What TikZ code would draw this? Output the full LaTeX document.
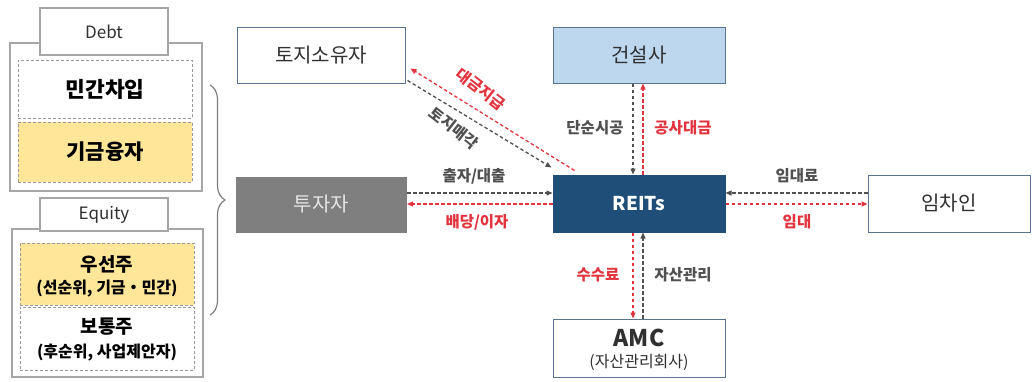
\documentclass[tikz,border=0pt]{standalone}
\usepackage{fontspec}
\setmainfont{Noto Sans CJK KR}
\usetikzlibrary{arrows.meta,decorations.pathreplacing,calc}
\definecolor{bord}{HTML}{5A7391}
\definecolor{lgray}{HTML}{A6A6A6}
\definecolor{dgray}{HTML}{9A9A9A}
\definecolor{yel}{HTML}{FFE699}
\definecolor{lblue}{HTML}{BDD7EE}
\definecolor{dblue}{HTML}{1F4E79}
\definecolor{mgray}{HTML}{7F7F7F}
\definecolor{rred}{HTML}{E2343F}
\definecolor{agray}{HTML}{505050}
\definecolor{txt}{HTML}{303030}
\begin{document}
\begin{tikzpicture}[x=1pt,y=-1pt,
  box/.style={draw=bord, line width=1pt, fill=white, text=txt, inner sep=0pt, font=\fontsize{20}{22}\selectfont},
  panel/.style={draw=lgray, line width=1.2pt, fill=white, inner sep=0pt},
  tab/.style={draw=lgray, line width=1.2pt, fill=white, inner sep=0pt, text=txt, font=\fontsize{17}{19}\selectfont},
  inbox/.style={draw=dgray, dashed, dash pattern=on 3pt off 2pt, line width=1pt, inner sep=0pt, text=black, align=center},
  ttl/.style={inner sep=0pt, text=black, font=\bfseries\fontsize{19}{21}\selectfont},
  sub/.style={inner sep=0pt, text=black, font=\bfseries\fontsize{16}{18}\selectfont},
  ga/.style={draw=agray, line width=1.3pt, dash pattern=on 3.5pt off 2.5pt, -{Triangle[length=6pt,width=5pt]}},
  ra/.style={draw=rred, line width=1.3pt, dash pattern=on 3.5pt off 2.5pt, -{Triangle[length=6pt,width=5pt]}},
  gl/.style={text=agray, font=\bfseries\fontsize{15.5}{17}\selectfont, inner sep=0pt},
  rl/.style={text=rred, font=\bfseries\fontsize{15.5}{17}\selectfont, inner sep=0pt}
]
\useasboundingbox (0,0) rectangle (1034,381);

% ---------- left panel: Debt ----------
\node[panel, minimum width=192pt, minimum height=148pt] (debtbox) at (106,117) {};
\node[tab, minimum width=128pt, minimum height=47pt] (debttab) at (104,31.5) {Debt};
\node[inbox, minimum width=174pt, minimum height=58pt, font=\bfseries\fontsize{21.5}{23}\selectfont] (minkan) at (105,89) {민간차입};
\node[inbox, fill=yel, minimum width=174pt, minimum height=60pt, font=\bfseries\fontsize{21}{23}\selectfont] (kigeum) at (105,152) {기금융자};

% ---------- left panel: Equity ----------
\node[panel, minimum width=191pt, minimum height=148pt] (eqbox) at (107.5,303) {};
\node[tab, minimum width=128pt, minimum height=33pt] (eqtab) at (104,214.5) {Equity};
\node[inbox, fill=yel, minimum width=174pt, minimum height=62pt] (pref) at (107,274) {};
\node[ttl] (preft) at (107,264) {우선주};
\node[sub] (prefs) at (107,289) {(선순위, 기금・민간)};
\node[inbox, minimum width=174pt, minimum height=63pt] (common) at (107,338.5) {};
\node[ttl] (commt) at (107,327) {보통주};
\node[sub] (comms) at (107,353) {(후순위, 사업제안자)};

% brace
\coordinate (bt) at (210,85);
\coordinate (bb) at (210,315);
\draw[draw=mgray, line width=1.2pt, decorate, decoration={brace, amplitude=15pt}] (bt) -- (bb);

% ---------- right diagram ----------
\node[box, minimum width=168pt, minimum height=56pt] (own) at (321,55) {토지소유자};
\node[box, fill=lblue, minimum width=172pt, minimum height=56pt] (con) at (639,55) {건설사};
\node[box, draw=mgray, fill=mgray, text=white!90!black, minimum width=170pt, minimum height=55pt] (inv) at (321.5,204.5) {투자자};
\node[box, draw=dblue, fill=dblue, text=white, minimum width=172pt, minimum height=57pt, font=\bfseries\fontsize{19}{21}\selectfont] (reits) at (639,203.5) {REITs};
\node[box, minimum width=162pt, minimum height=57pt] (ten) at (949,203.5) {임차인};
\node[box, minimum width=172pt, minimum height=58pt] (amc) at (639,348) {};
\node[inner sep=0pt, text=txt, font=\bfseries\fontsize{23}{24}\selectfont] (amct) at (639,338) {AMC};
\node[inner sep=0pt, text=txt, font=\fontsize{16}{18}\selectfont] (amcs) at (639,362) {(자산관리회사)};

% investor <-> REITs
\draw[ga] ([yshift=11.5pt]inv.east) -- ([yshift=11.5pt]inv.east -| reits.west);
\draw[ra] ([yshift=0.5pt]inv.east -| reits.west) -- ([yshift=0.5pt]inv.east);
\node[gl] (l1) at (474,176) {출자/대출};
\node[rl] (l2) at (477,222) {배당/이자};

% REITs <-> tenant
\draw[ga] ([yshift=10.5pt]ten.west) -- ([yshift=10.5pt]reits.east);
\draw[ra] ([yshift=-0.5pt]reits.east) -- ([yshift=-0.5pt]ten.west);
\node[gl] (l3) at (797,176) {임대료};
\node[rl] (l4) at (797,222) {임대};

% constructor <-> REITs
\draw[ga] ([xshift=-6pt]con.south) -- ([xshift=-6pt]reits.north);
\draw[ra] ([xshift=4pt]reits.north) -- ([xshift=4pt]con.south);
\node[gl] (l5) at (595,128) {단순시공};
\node[rl] (l6) at (683,128) {공사대금};

% REITs <-> AMC
\draw[ra] ([xshift=-6pt]reits.south) -- ([xshift=-6pt]amc.north);
\draw[ga] ([xshift=4pt]amc.north) -- ([xshift=4pt]reits.south);
\node[rl] (l7) at (598,275) {수수료};
\node[gl] (l8) at (683,275) {자산관리};

% land owner <-> REITs
\draw[ra] ([shift={(22pt,4pt)}]reits.north west) -- ([shift={(5pt,15pt)}]own.south east);
\draw[ga] ([shift={(2pt,3pt)}]own.south east) -- ([shift={(-1pt,7pt)}]reits.north west);
\node[rl, rotate=-38] (l9) at (481,89) {대금지급};
\node[gl, rotate=-38] (l10) at (454,128) {토지매각};
\end{tikzpicture}
\end{document}
